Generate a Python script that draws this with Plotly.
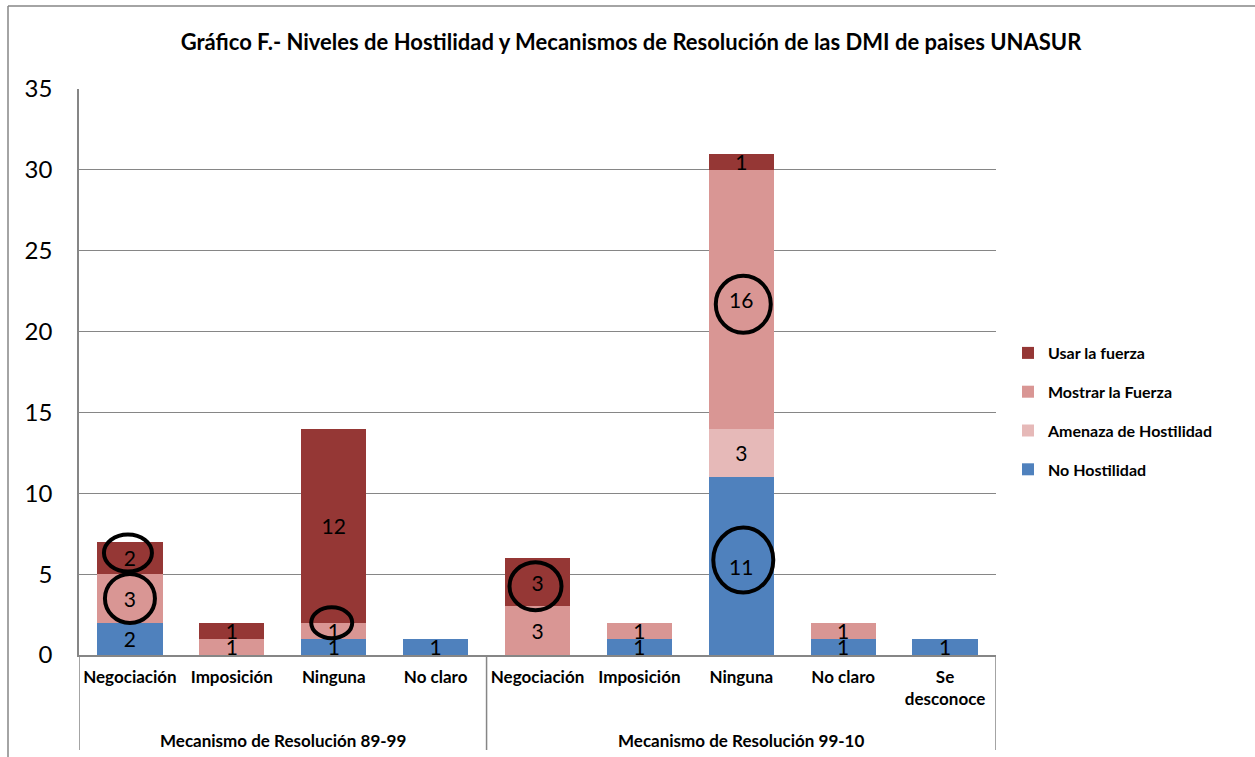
import plotly.graph_objects as go

# Categories (two periods of resolution mechanism)
categorias = ["Negociación", "Imposición", "Ninguna", "No claro",
              "Negociación", "Imposición", "Ninguna", "No claro", "Se<br>desconoce"]
periodos = ["Mecanismo de Resolución 89-99", "Mecanismo de Resolución 99-10"]
categorias_por_periodo = [4, 5]

# Hostility levels, stacked bottom to top
no_hostilidad = [2, 0, 1, 1, 0, 1, 11, 1, 1]
amenaza_hostilidad = [0, 0, 0, 0, 0, 0, 3, 0, 0]
mostrar_fuerza = [3, 1, 1, 0, 3, 1, 16, 1, 0]
usar_fuerza = [2, 1, 12, 0, 3, 0, 1, 0, 0]

series = [
    ("No Hostilidad", no_hostilidad, "#4F81BD"),
    ("Amenaza de Hostilidad", amenaza_hostilidad, "#E6B9B8"),
    ("Mostrar la Fuerza", mostrar_fuerza, "#D99694"),
    ("Usar la fuerza", usar_fuerza, "#953735"),
]

# Highlighted segments: (category index, series name, width px, height px, dx px, dy px)
resaltados = [
    (0, "Usar la fuerza", 48, 37, -2, -5),
    (0, "Mostrar la Fuerza", 50, 49, 0, 0),
    (2, "Mostrar la Fuerza", 41, 31, -2, -8),
    (4, "Usar la fuerza", 52, 48, -2, 4),
    (6, "No Hostilidad", 60, 65, 2, -6),
    (6, "Mostrar la Fuerza", 55, 57, 2, 5),
]

FONT = "Lato"
W, H = 1255, 757
ML, MR, MT, MB = 79, 259, 89, 102
YMAX = 35
n = len(categorias)
px_x = (W - ML - MR) / n
px_y = (H - MT - MB) / YMAX

fig = go.Figure()
x = list(range(n))
for i, (nombre, valores, color) in enumerate(series):
    fig.add_trace(go.Bar(
        x=x, y=valores, name="<b>%s</b>" % nombre, legendgroup=nombre,
        legendrank=len(series) - i,  # top of the stack listed first
        marker=dict(color=color, line=dict(width=0)),
        text=[str(v) if v else "" for v in valores],
        textposition="inside", insidetextanchor="middle", textangle=0,
        textfont=dict(family=FONT, size=21, color="#000000"),
        width=0.64, hoverinfo="skip",
    ))

shapes = []
# Outlines around highlighted segments
base = {nombre: valores for nombre, valores, _ in series}
orden = [s[0] for s in series]
for idx, nombre, w, h, dx, dy in resaltados:
    bajo = sum(base[o][idx] for o in orden[:orden.index(nombre)])
    cy = bajo + base[nombre][idx] / 2 - dy / px_y
    cx = idx + dx / px_x
    shapes.append(dict(type="circle", xref="x", yref="y",
                       x0=cx - w / 2 / px_x, x1=cx + w / 2 / px_x,
                       y0=cy - h / 2 / px_y, y1=cy + h / 2 / px_y,
                       line=dict(color="#000000", width=4)))

# Separators of the two-level category axis
y_bottom = -(750 - (H - MB)) / (H - MT - MB)
pos = -0.5
seps = [pos]
for k in categorias_por_periodo:
    pos += k
    seps.append(pos)
for s in seps:
    shapes.append(dict(type="line", xref="x", yref="paper", x0=s, x1=s,
                       y0=0, y1=y_bottom, line=dict(color="#868686", width=1.5)))

# Outer chart border (left and top)
pw, ph = W - ML - MR, H - MT - MB
bx, by = -(ML - 8) / pw, 1 + (MT - 6) / ph
shapes.append(dict(type="line", xref="paper", yref="paper",
                   x0=bx, x1=(W - ML) / pw, y0=by, y1=by,
                   line=dict(color="#868686", width=1.5)))
shapes.append(dict(type="line", xref="paper", yref="paper",
                   x0=bx, x1=bx, y0=by, y1=-MB / ph,
                   line=dict(color="#868686", width=1.5)))

annotations = []
y_grp = -(740 - (H - MB)) / ph
pos = -0.5
for nombre, k in zip(periodos, categorias_por_periodo):
    annotations.append(dict(x=pos + k / 2, y=y_grp, xref="x", yref="paper",
                            text="<b>%s</b>" % nombre, showarrow=False,
                            font=dict(family=FONT, size=17, color="#000000"),
                            yanchor="middle"))
    pos += k

fig.update_layout(
    width=W, height=H,
    margin=dict(l=ML, r=MR, t=MT, b=MB),
    paper_bgcolor="white", plot_bgcolor="white",
    barmode="stack", bargap=0.36,
    title=dict(text="<b>Gráfico F.- Niveles de Hostilidad y Mecanismos de Resolución de las DMI de paises UNASUR</b>",
               x=631 / W, xref="container", xanchor="center",
               y=1 - 42 / H, yref="container", yanchor="middle",
               font=dict(family=FONT, size=22, color="#000000")),
    xaxis=dict(range=[-0.5, n - 0.5], tickvals=x, ticktext=["<b>%s</b>" % c for c in categorias],
               tickfont=dict(family=FONT, size=17, color="#000000"),
               showgrid=False, zeroline=False, showline=True, linecolor="#868686", linewidth=1.5,
               ticks="", ticklabelstandoff=6),
    yaxis=dict(range=[0, YMAX], dtick=5, tickfont=dict(family=FONT, size=24, color="#000000"),
               showgrid=True, gridcolor="#868686", gridwidth=1.3, zeroline=False,
               showline=True, linecolor="#868686", linewidth=1.5, ticks="",
               ticklabelstandoff=20),
    uniformtext=dict(minsize=21, mode="show"),
    legend=dict(traceorder="grouped", x=(1008 - ML) / pw, xanchor="left",
                y=1 - (336 - MT) / ph, yanchor="top",
                font=dict(family=FONT, size=16, color="#000000"),
                tracegroupgap=15, itemclick=False, itemdoubleclick=False),
    shapes=shapes, annotations=annotations,
)

fig.write_html("out.html")
